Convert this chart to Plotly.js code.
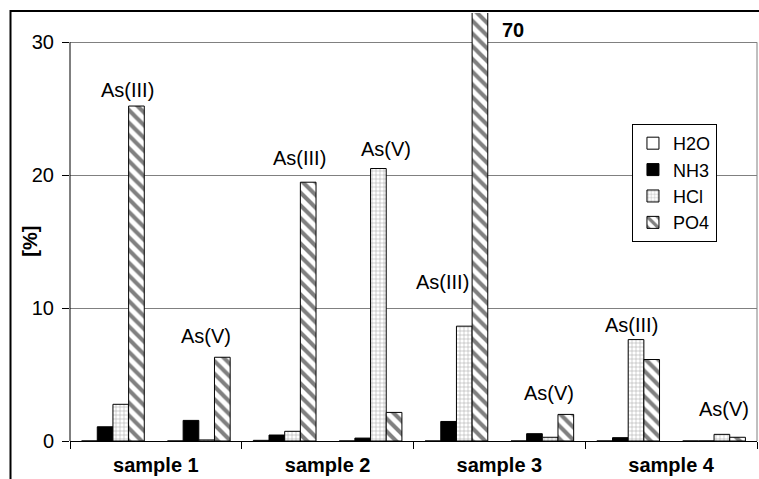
<!DOCTYPE html>
<html>
<head>
<meta charset="utf-8">
<script src="https://cdn.plot.ly/plotly-3.0.1.min.js"></script>
<style>html,body{margin:0;padding:0;background:#fff;}#chart{width:759px;height:479px;}</style>
</head>
<body>
<div id="chart"></div>
<script>
// Slots: each sample has an As(III) group and an As(V) group
const slots = [0, 1, 2, 3, 4, 5, 6, 7];
const sampleLabels = ["sample 1", "sample 2", "sample 3", "sample 4"];
const sampleCenters = [0.5, 2.5, 4.5, 6.5];
const seriesNames = ["H2O", "NH3", "HCl", "PO4"];
const h2o = [0, 0, 0.05, 0, 0, 0, 0, 0];
const nh3 = [1.07, 1.55, 0.45, 0.22, 1.47, 0.55, 0.25, 0];
const hcl = [2.76, 0.08, 0.73, 20.5, 8.64, 0.28, 7.63, 0.5];
const po4 = [25.2, 6.3, 19.47, 2.15, 70, 2.0, 6.13, 0.28];
const yTicks = [0, 10, 20, 30];
// species labels
const speciesText = ["As(III)", "As(V)", "As(III)", "As(V)", "As(III)", "As(V)", "As(III)", "As(V)"];
const speciesX = [0.17, 1.084, 2.167, 3.18, 3.843, 5.078, 6.033, 7.116];
const speciesY = [26.4, 7.9, 21.3, 21.95, 11.98, 3.6, 8.72, 2.4];
const offscaleText = "70";

const FONT = "Liberation Sans, Arial, sans-serif";
const line = {color: "#000", width: 1};

const traces = [
  {type: "bar", name: seriesNames[0], x: slots, y: h2o,
   marker: {color: "#ffffff", line: line}},
  {type: "bar", name: seriesNames[1], x: slots, y: nh3,
   marker: {color: "#000000", line: line}},
  {type: "bar", name: seriesNames[2], x: slots, y: hcl,
   marker: {color: "#ffffff", line: line,
     pattern: {shape: "+", size: 4, solidity: 0.25, fgcolor: "#a8a8a8", bgcolor: "#ffffff", fillmode: "replace"}}},
  {type: "bar", name: seriesNames[3], x: slots, y: po4,
   marker: {color: "#ffffff", line: line,
     pattern: {shape: "\\", size: 9, solidity: 0.45, fgcolor: "#808080", bgcolor: "#ffffff", fillmode: "replace"}}}
];

const annotations = speciesText.map((t, i) => ({
  text: t, x: speciesX[i], y: speciesY[i], xref: "x", yref: "y",
  showarrow: false, xanchor: "center", yanchor: "middle",
  font: {family: FONT, size: 20, color: "#000"}
}));
annotations.push({
  text: "<b>" + offscaleText + "</b>", x: 4.659, y: 30.9, xref: "x", yref: "y",
  showarrow: false, xanchor: "center", yanchor: "middle",
  font: {family: FONT, size: 20, color: "#000"}
});
annotations.push({
  text: "<b>[%]</b>", x: -0.0582, y: 15, xref: "paper", yref: "y",
  showarrow: false, xanchor: "center", yanchor: "middle", textangle: -90,
  font: {family: FONT, size: 20, color: "#000"}
});

const layout = {
  width: 759, height: 479,
  margin: {l: 70, r: 2, t: 13, b: 38, pad: 0},
  paper_bgcolor: "#fff", plot_bgcolor: "#fff",
  font: {family: FONT, size: 20, color: "#000"},
  barmode: "group", bargap: 0.27, bargroupgap: 0,
  showlegend: true,
  legend: {x: 0.818, y: 0.7407, xanchor: "left", yanchor: "top",
    bordercolor: "#000", borderwidth: 1, bgcolor: "#fff",
    font: {family: FONT, size: 18, color: "#000"}, tracegroupgap: 0, itemwidth: 30},
  xaxis: {
    range: [-0.5, 7.5], tickmode: "array", tickvals: sampleCenters,
    ticktext: sampleLabels.map(s => "<b>" + s + "</b>"),
    ticks: "", showgrid: false, zeroline: false,
    showline: true, linecolor: "#000", linewidth: 1,
    tickfont: {family: FONT, size: 20, color: "#000"}, ticklabelstandoff: 6,
    minor: {tick0: -0.5, dtick: 2, ticks: "outside", ticklen: 7, tickcolor: "#000", tickwidth: 1, showgrid: false}
  },
  yaxis: {
    range: [0, 32.2], tickmode: "array", tickvals: yTicks,
    ticks: "outside", ticklen: 7, tickcolor: "#000", tickwidth: 1,
    showgrid: true, gridcolor: "#808080", gridwidth: 1,
    zeroline: false, showline: false,
    tickfont: {family: FONT, size: 20, color: "#000"}, ticklabelstandoff: 4
  },
  annotations: annotations,
  shapes: [
    {type: "line", xref: "paper", yref: "y", x0: 0, x1: 0, y0: 0, y1: 30, line: {color: "#000", width: 1}, layer: "above"},
    {type: "line", xref: "paper", yref: "y", x0: 1, x1: 1, y0: 0, y1: 30, line: {color: "#808080", width: 1}, layer: "above"},
    {type: "rect", xref: "paper", yref: "paper", x0: -0.0866, x1: 1.2, y0: -0.5, y1: 1.0047, line: {color: "#000", width: 2}, layer: "above"}
  ]
};

Plotly.newPlot("chart", traces, layout, {displayModeBar: false, staticPlot: true});
</script>
</body>
</html>
